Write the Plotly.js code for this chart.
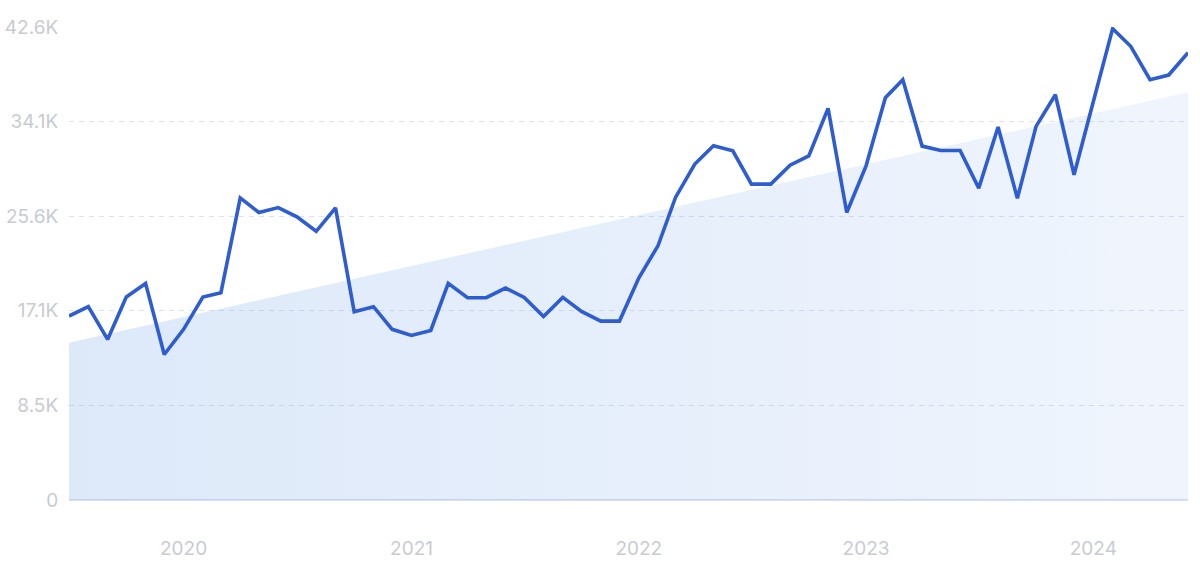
<!DOCTYPE html>
<html>
<head>
<meta charset="utf-8">
<script src="https://cdn.plot.ly/plotly-3.0.1.min.js"></script>
<style>
  html, body { margin: 0; padding: 0; background: #ffffff; }
  #chart { width: 1200px; height: 563px; }
</style>
</head>
<body>
<div id="chart"></div>
<script>
// Monthly data, July 2019 - June 2024
const months = [
  "2019-07-01","2019-08-01","2019-09-01","2019-10-01","2019-11-01","2019-12-01",
  "2020-01-01","2020-02-01","2020-03-01","2020-04-01","2020-05-01","2020-06-01",
  "2020-07-01","2020-08-01","2020-09-01","2020-10-01","2020-11-01","2020-12-01",
  "2021-01-01","2021-02-01","2021-03-01","2021-04-01","2021-05-01","2021-06-01",
  "2021-07-01","2021-08-01","2021-09-01","2021-10-01","2021-11-01","2021-12-01",
  "2022-01-01","2022-02-01","2022-03-01","2022-04-01","2022-05-01","2022-06-01",
  "2022-07-01","2022-08-01","2022-09-01","2022-10-01","2022-11-01","2022-12-01",
  "2023-01-01","2023-02-01","2023-03-01","2023-04-01","2023-05-01","2023-06-01",
  "2023-07-01","2023-08-01","2023-09-01","2023-10-01","2023-11-01","2023-12-01",
  "2024-01-01","2024-02-01","2024-03-01","2024-04-01","2024-05-01","2024-06-01"
];
const volume = [
  16590, 17430, 14480, 18300, 19530, 13120,
  15390, 18300, 18690, 27240, 25920, 26370,
  25530, 24230, 26340, 16970, 17430, 15390,
  14840, 15290, 19530, 18240, 18240, 19110,
  18270, 16550, 18270, 17010, 16130, 16130,
  20020, 22940, 27280, 30290, 31940, 31490,
  28480, 28480, 30190, 31030, 35310, 25920,
  30130, 36280, 37900, 31910, 31520, 31520,
  28120, 33630, 27210, 33690, 36540, 29320,
  35930, 42500, 40910, 37900, 38320, 40330
];
// Trend line endpoints (first and last month)
const trendX = [months[0], months[months.length - 1]];
const trendY = [14190, 36770];

const yTickVals = [0, 8530, 17060, 25590, 34120, 42650];
const yTickText = ["0", "8.5K", "17.1K", "25.6K", "34.1K", "42.6K"];
const xTickVals = ["2020-01-01", "2021-01-01", "2022-01-01", "2023-01-01", "2024-01-01"];
const xTickText = ["2020", "2021", "2022", "2023", "2024"];

const tickFont = { family: "Inter, 'Open Sans', sans-serif", size: 19, color: "#c8cbd1" };

const traces = [
  {
    x: trendX,
    y: trendY,
    type: "scatter",
    mode: "lines",
    line: { width: 0, color: "rgba(0,0,0,0)" },
    fill: "tozeroy",
    fillgradient: {
      type: "horizontal",
      colorscale: [[0, "rgba(119,167,231,0.25)"], [1, "rgba(105,155,235,0.10)"]]
    },
    hoverinfo: "skip",
    showlegend: false
  },
  {
    x: months,
    y: volume,
    type: "scatter",
    mode: "lines",
    line: { color: "#2d5dd1", width: 3.6 },
    cliponaxis: false,
    showlegend: false
  }
];

const layout = {
  width: 1200,
  height: 563,
  margin: { l: 69, r: 12, t: 26.5, b: 63, pad: 0 },
  paper_bgcolor: "#ffffff",
  plot_bgcolor: "#ffffff",
  showlegend: false,
  xaxis: {
    type: "date",
    range: [months[0], months[months.length - 1]],
    tickvals: xTickVals,
    ticktext: xTickText,
    ticks: "outside",
    ticklen: 31,
    tickcolor: "rgba(0,0,0,0)",
    tickfont: tickFont,
    showgrid: false,
    zeroline: false,
    showline: false,
    fixedrange: true
  },
  yaxis: {
    range: [0, 42650],
    tickvals: yTickVals,
    ticktext: yTickText,
    ticks: "outside",
    ticklen: 6,
    tickcolor: "rgba(0,0,0,0)",
    tickfont: tickFont,
    showgrid: true,
    gridcolor: "#d9e2ee",
    gridwidth: 1,
    griddash: "5px,5px",
    zeroline: true,
    zerolinecolor: "#d4e2f4",
    zerolinewidth: 1.5,
    showline: false,
    fixedrange: true
  }
};

Plotly.newPlot("chart", traces, layout, { displayModeBar: false, staticPlot: true });
</script>
</body>
</html>
